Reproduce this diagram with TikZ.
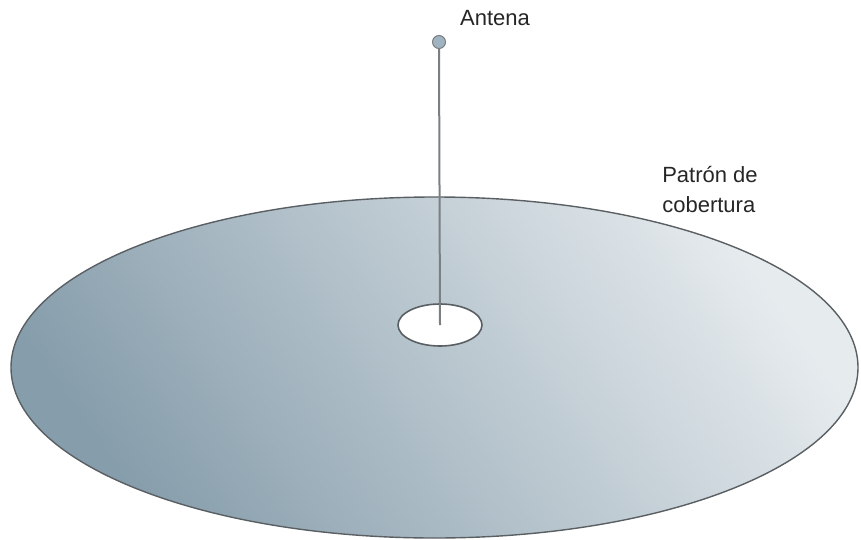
\documentclass[tikz,border=0pt]{standalone}
\usepackage{fontspec}
\setmainfont{Liberation Sans}
\usepackage{tikz}
\usetikzlibrary{positioning, shapes.geometric}
\definecolor{platedark}{HTML}{869DAB}
\definecolor{platelight}{HTML}{E6EBEE}
\definecolor{rimgray}{HTML}{5A5F63}
\definecolor{mastgray}{HTML}{7A7F82}
\definecolor{tipblue}{HTML}{9FB3C0}
\tikzset{
  % --- coverage plate and hole ---
  plate/.style={draw=rimgray, ellipse, line width=0.7pt, inner sep=0pt,
    minimum width=423.5pt, minimum height=170.5pt,
    top color=platelight, bottom color=platedark, shading angle=-55},
  hole/.style={draw=rimgray, ellipse, fill=white, line width=0.8pt, inner sep=0pt,
    minimum width=42pt, minimum height=21pt},
  % --- antenna ---
  tip/.style={draw=mastgray, circle, fill=tipblue, line width=0.5pt, inner sep=0pt,
    minimum size=6.5pt},
  mast/.style={draw=mastgray, line width=1pt},
  % --- labels ---
  lbl/.style={font=\fontsize{11}{15}\selectfont, text=black!85, align=left, inner sep=0pt},
}
\begin{document}
\begin{tikzpicture}[x=0.5pt, y=-0.5pt]
    \useasboundingbox (0,0) rectangle (861,540);
    % plate
    \node[plate] (cover) at (434.5,367.5) {};
    \node[hole] (hole) at (440,325) {};
    % antenna
    \node[tip] (tip) at (439,42) {};
    \draw[mast] (tip.south) -- (hole.center);
    % labels
    \node[lbl] (antlbl) at (495,18) {Antena};
    \node[lbl] (covlbl) at (710,190) {Patrón de\\cobertura};
\end{tikzpicture}
\end{document}
